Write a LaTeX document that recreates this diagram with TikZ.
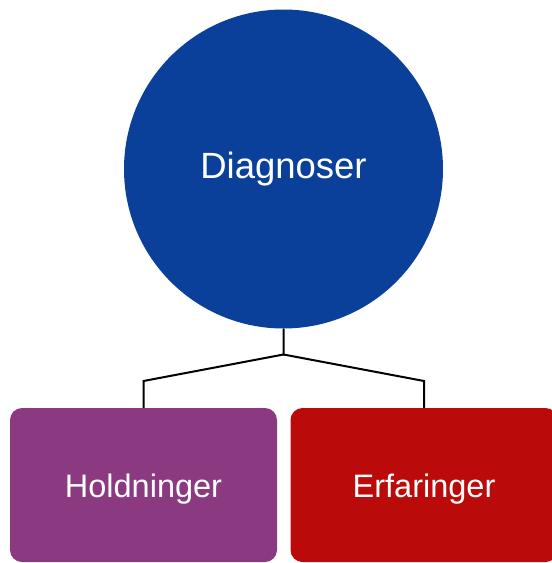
\documentclass[tikz,border=0pt]{standalone}
\usepackage{fontspec}
\setmainfont{Liberation Sans}
\definecolor{cblue}{RGB}{10,63,154}
\definecolor{cpurple}{RGB}{139,57,128}
\definecolor{cred}{RGB}{186,10,10}
\newcommand{\lowered}[2]{\raisebox{-#1}[0pt][0pt]{#2}}
\begin{document}
\begin{tikzpicture}[x=1pt,y=-1pt,
  bigcirc/.style={circle,fill=cblue,minimum size=319pt,inner sep=0pt,text=white,font=\fontsize{36.5}{40}\selectfont},
  childbox/.style={rectangle,rounded corners=12pt,minimum width=267pt,minimum height=154pt,inner sep=0pt,text=white,font=\fontsize{32.5}{36}\selectfont},
  conn/.style={line width=2pt,black}]
\useasboundingbox (0,0) rectangle (552,563);
\clip (0,0) rectangle (552,563);
\node[bigcirc] (d) at (283.5,169) {\lowered{9.3pt}{Diagnoser}};
\node[childbox,fill=cpurple] (h) at (143.5,485) {\lowered{12.7pt}{Holdninger}};
\node[childbox,fill=cred] (e) at (424,485) {\lowered{12.7pt}{Erfaringer}};
\coordinate (j) at (283.5,354.5);
\coordinate (l) at (143.5,381);
\coordinate (r) at (424,381);
\draw[conn] (d.south) -- (j) -- (l) -- (h.north);
\draw[conn] (j) -- (r) -- (e.north);
\end{tikzpicture}
\end{document}
